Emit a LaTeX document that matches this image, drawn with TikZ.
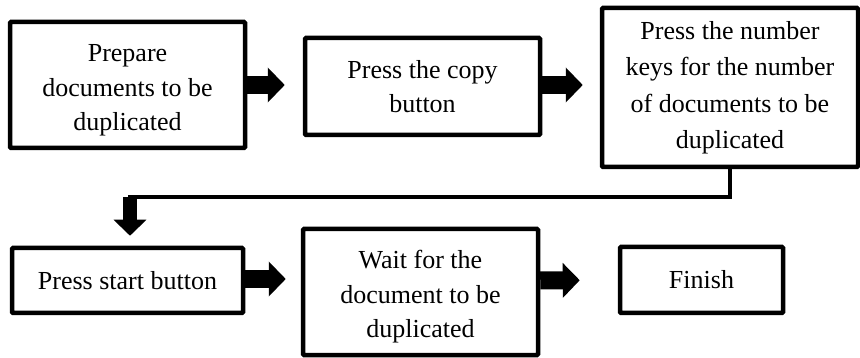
\documentclass[tikz,border=0pt]{standalone}
\usepackage{fontspec}
\setmainfont{Liberation Serif}
\usetikzlibrary{arrows.meta}
\tikzset{
  box/.style={draw=black, line width=4.5pt, rounded corners=1pt, align=center, inner sep=0pt,
    font=\fontsize{26}{34.5}\selectfont},
  blockarrow/.style={line width=18pt, -{Triangle[length=17pt,width=34pt]}},
  vblockarrow/.style={line width=14pt, -{Triangle[length=16pt,width=32pt]}},
  thinline/.style={line width=4.5pt}
}
\begin{document}
\begin{tikzpicture}[x=1pt,y=-1pt]
\useasboundingbox (0,0) rectangle (860,358);
\node[box, minimum width=235pt, minimum height=126pt] (b1) at (127.5,85) {\rule{0pt}{28pt}Prepare\\documents to be\\duplicated};
\node[box, minimum width=235pt, minimum height=97pt] (b2) at (422.5,86.5) {Press the copy\\button};
\node[box, minimum width=256pt, minimum height=159pt, font=\fontsize{26}{36.5}\selectfont] (b3) at (730,87.5) {Press the number\\keys for the number\\of documents to be\\duplicated};
\node[box, minimum width=231pt, minimum height=65pt] (b4) at (127.5,280.5) {Press start button};
\node[box, minimum width=235pt, minimum height=126pt] (b5) at (420.5,292) {\rule{0pt}{28pt}Wait for the\\document to be\\duplicated};
\node[box, minimum width=163pt, minimum height=66pt] (b6) at (701.5,280) {Finish};
\coordinate (c) at (130,197);
\draw[blockarrow, shorten >=18pt] (b1.east) -- (b1.east -| b2.west);
\draw[blockarrow, shorten >=17pt] ([yshift=1.5pt]b2.east) -- ([yshift=1.5pt]b2.east -| b3.west);
\draw[thinline] (b3.south) |- ([xshift=-2pt]c);
\draw[vblockarrow, shorten >=10pt] (c) -- (c |- b4.north);
\draw[blockarrow, shorten >=15pt] ([yshift=1.5pt]b4.east) -- ([yshift=1.5pt]b4.east -| b5.west);
\draw[blockarrow, shorten >=38pt] ([yshift=-0.5pt]b5.east |- b6.west) -- (b6.west);
\end{tikzpicture}
\end{document}
